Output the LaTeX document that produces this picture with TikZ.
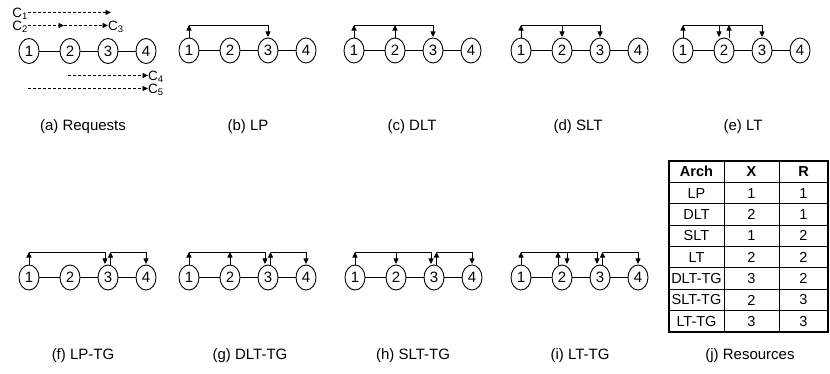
\documentclass[tikz,border=0pt]{standalone}
\usepackage{fontspec}
\setmainfont{Liberation Sans}
\usetikzlibrary{shapes.geometric,arrows.meta}
\tikzset{
  nd/.style={draw,ellipse,minimum width=20pt,minimum height=25pt,inner sep=0pt,line width=0.9pt,font=\fontsize{15}{15}\selectfont},
  lnk/.style={line width=0.9pt},
  arr/.style={line width=0.9pt,-{Triangle[length=5.5pt,width=5pt]}},
  req/.style={line width=0.8pt,dash pattern=on 3pt off 2pt,-{Triangle[length=5.5pt,width=5pt]}},
  lbl/.style={inner sep=0pt,text height=9pt,text depth=2pt,font=\fontsize{13.5}{13.5}\selectfont},
  captxt/.style={font=\fontsize{15}{15}\selectfont},
  cell/.style={font=\fontsize{14.5}{14.5}\selectfont,inner sep=0pt},
  hcell/.style={font=\fontsize{14.5}{14.5}\selectfont\bfseries,inner sep=0pt},
  tline/.style={line width=0.8pt},
  tout/.style={line width=1.3pt}
}
\newcommand{\mkpanel}[3]{%
  \node[nd] (#11) at (#2,#3) {1};
  \node[nd] (#12) at (#2+41,#3) {2};
  \node[nd] (#13) at (#2+79,#3) {3};
  \node[nd] (#14) at (#2+117,#3) {4};
  \draw[lnk] (#11) -- (#12);
  \draw[lnk] (#12) -- (#13);
  \draw[lnk] (#13) -- (#14);
  \coordinate (#1bar) at (#2,#3-25.5);
}
\newcommand{\arrup}[3]{\draw[arr] ([xshift=#2pt]#1.north) -- ([xshift=#2pt]#1.north |- #3bar);}
\newcommand{\arrdn}[3]{\draw[arr] ([xshift=#2pt]#1.north |- #3bar) -- ([xshift=#2pt,yshift=0.6pt]#1.north);}
\newcommand{\mkbar}[5]{\draw[lnk] ([xshift=#2pt]#1.north |- #5bar) -- ([xshift=#4pt]#3.north |- #5bar);}
\begin{document}
\begin{tikzpicture}[x=1pt,y=-1pt]
\useasboundingbox (0,0) rectangle (830,373);
% (a) Requests
\mkpanel{a}{29}{51}
\node[lbl,anchor=base east] (c1) at (28,17.2) {C\textsubscript{1}};
\coordinate (c1e) at (111,12.4);
\draw[req] (c1e -| c1.east) -- (c1e);
\node[lbl,anchor=base east] (c2) at (28,30.3) {C\textsubscript{2}};
\coordinate (c2m) at (64,25.5);
\draw[req] (c2m -| c2.east) -- (c2m);
\node[lbl,anchor=base west] (c3) at (108,30.3) {C\textsubscript{3}};
\draw[req] (c2m) -- (c2m -| c3.west);
\node[lbl,anchor=base west] (c4) at (148,80.3) {C\textsubscript{4}};
\coordinate (c4s) at (68,75.5);
\draw[req] (c4s) -- (c4s -| c4.west);
\node[lbl,anchor=base west] (c5) at (148,93.3) {C\textsubscript{5}};
\coordinate (c5s) at (28,88.5);
\draw[req] (c5s) -- (c5s -| c5.west);
\node[captxt] (capa) at (83,127) {(a) Requests};
% (b) LP
\mkpanel{b}{189}{50.5}
\mkbar{b1}{0}{b3}{0}{b}
\arrup{b1}{0}{b}
\arrdn{b3}{0}{b}
\node[captxt] (capb) at (248,127) {(b) LP};
% (c) DLT
\mkpanel{c}{354}{50.5}
\mkbar{c1}{0}{c3}{0}{c}
\arrup{c1}{0}{c}
\arrup{c2}{0}{c}
\arrdn{c3}{0}{c}
\node[captxt] (capc) at (412,127) {(c) DLT};
% (d) SLT
\mkpanel{d}{521}{50.5}
\mkbar{d1}{0}{d3}{0}{d}
\arrup{d1}{0}{d}
\arrdn{d2}{0}{d}
\arrdn{d3}{0}{d}
\node[captxt] (capd) at (578,127) {(d) SLT};
% (e) LT
\mkpanel{e}{683}{50.5}
\mkbar{e1}{0}{e3}{0}{e}
\arrup{e1}{0}{e}
\arrdn{e2}{-5}{e}
\arrup{e2}{5}{e}
\arrdn{e3}{0}{e}
\node[captxt] (cape) at (743,127) {(e) LT};
% (f) LP-TG
\mkpanel{f}{29}{277.5}
\mkbar{f1}{0}{f3}{-3}{f}
\mkbar{f3}{2.5}{f4}{0}{f}
\arrup{f1}{0}{f}
\arrdn{f3}{-3}{f}
\arrup{f3}{2.5}{f}
\arrdn{f4}{0}{f}
\node[captxt] (capf) at (83,356) {(f) LP-TG};
% (g) DLT-TG
\mkpanel{g}{189}{277.5}
\mkbar{g1}{0}{g3}{-3}{g}
\mkbar{g3}{2.5}{g4}{0}{g}
\arrup{g1}{0}{g}
\arrup{g2}{0}{g}
\arrdn{g3}{-3}{g}
\arrup{g3}{2.5}{g}
\arrdn{g4}{0}{g}
\node[captxt] (capg) at (250,356) {(g) DLT-TG};
% (h) SLT-TG
\mkpanel{h}{355}{277.5}
\mkbar{h1}{0}{h3}{-3}{h}
\mkbar{h3}{2.5}{h4}{0}{h}
\arrup{h1}{0}{h}
\arrdn{h2}{0}{h}
\arrdn{h3}{-3}{h}
\arrup{h3}{2.5}{h}
\arrdn{h4}{0}{h}
\node[captxt] (caph) at (413,356) {(h) SLT-TG};
% (i) LT-TG
\mkpanel{i}{521}{277.5}
\mkbar{i1}{0}{i3}{-3}{i}
\mkbar{i3}{2.5}{i4}{0}{i}
\arrup{i1}{0}{i}
\arrup{i2}{-4}{i}
\arrdn{i2}{5}{i}
\arrdn{i3}{-3}{i}
\arrup{i3}{2.5}{i}
\arrdn{i4}{0}{i}
\node[captxt] (capi) at (580,356) {(i) LT-TG};
% (j) Resources table
\foreach \k in {1,...,7} \draw[tline] (669,161+21.375*\k) -- (828,161+21.375*\k);
\draw[tline] (724,161) -- (724,332);
\draw[tline] (779,161) -- (779,332);
\draw[tout] (669,161) rectangle (828,332);
\node[hcell] (h0) at (696.5,171.7) {Arch};
\node[hcell] (h1) at (751.5,171.7) {X};
\node[hcell] (h2) at (803.5,171.7) {R};
\foreach \a/\x/\r [count=\i] in {LP/1/1,DLT/2/1,SLT/1/2,LT/2/2,DLT-TG/3/2,SLT-TG/2/3,LT-TG/3/3}{
  \node[cell] (ta\i) at (696.5,171.7+21.375*\i) {\a};
  \node[cell] (tx\i) at (751.5,171.7+21.375*\i) {\x};
  \node[cell] (tr\i) at (803.5,171.7+21.375*\i) {\r};
}
\node[captxt] (capj) at (750,356) {(j) Resources};
\end{tikzpicture}
\end{document}
